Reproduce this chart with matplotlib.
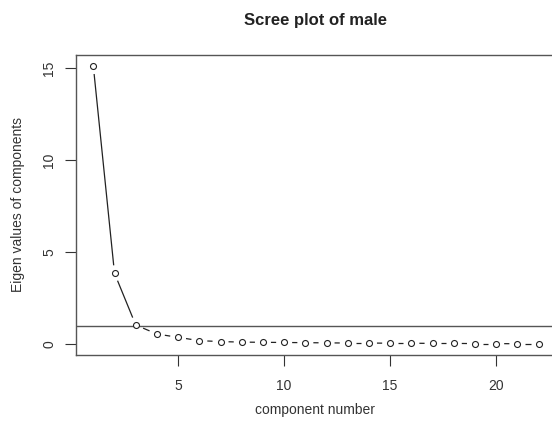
import matplotlib
matplotlib.use("Agg")
import matplotlib.pyplot as plt
import numpy as np

# eigen values
components = list(range(1, 23))
eigen = [15.1, 3.84, 1.03, 0.54, 0.36, 0.18, 0.13, 0.10, 0.09, 0.08, 0.07,
         0.06, 0.05, 0.05, 0.04, 0.04, 0.03, 0.03, 0.02, 0.02, 0.01, 0.01]
cutoff = 1
xticks = [5, 10, 15, 20]
yticks = [0, 5, 10, 15]

plt.rcParams['font.family'] = ['Liberation Sans', 'DejaVu Sans']

fig = plt.figure(figsize=(5.52, 4.25), dpi=100)
# R plot region, box runs past the right edge of the saved picture
ax = fig.add_axes([75.5/552, 1-355/425, (556.4-75.5)/552, (355-55)/425])
ax.set_xlim(0.16, 22.84)
ax.set_ylim(-0.6, 15.7)

# type="b": segments stop short of the points
pts = ax.transData.transform(np.column_stack([components, eigen]))
inv = ax.transData.inverted()
gap = 8.0  # pixels from point centre
for a, b in zip(pts[:-1], pts[1:]):
    d = b - a
    L = np.hypot(*d)
    if L <= 2 * gap:
        continue
    u = d / L
    seg = inv.transform(np.array([a + u * gap, b - u * gap]))
    ax.plot(seg[:, 0], seg[:, 1], color='#222222', lw=0.9, solid_capstyle='butt')

ax.plot(components, eigen, ls='none', marker='o', ms=4.3,
        mfc='white', mec='#222222', mew=0.8, zorder=3)
ax.axhline(cutoff, color='#555555', lw=1.0)

ax.set_xticks(xticks)
ax.set_yticks(yticks)
ax.tick_params(direction='out', length=8, width=0.8, color='#333333',
               labelsize=10, labelcolor='#333333')
ax.tick_params(axis='x', pad=9)
ax.tick_params(axis='y', pad=6)
for lab in ax.get_yticklabels():
    lab.set_rotation(90)
    lab.set_va('center')
for s in ax.spines.values():
    s.set_color('#555555')
    s.set_linewidth(1.0)

ax.set_xlabel('component number', fontsize=10, color='#333333', va='center')
ax.xaxis.set_label_coords(0.498, (355 - 410) / 300)
ax.set_ylabel('Eigen values of components', fontsize=10, color='#333333', va='center')
ax.yaxis.set_label_coords((18 - 75.5) / 480.9, 0.5)
fig.text(315/552, 1-20/425, 'Scree plot of male', ha='center', va='center',
         fontsize=12, fontweight='bold', color='#222222')

fig.savefig('out.png', dpi=100)
